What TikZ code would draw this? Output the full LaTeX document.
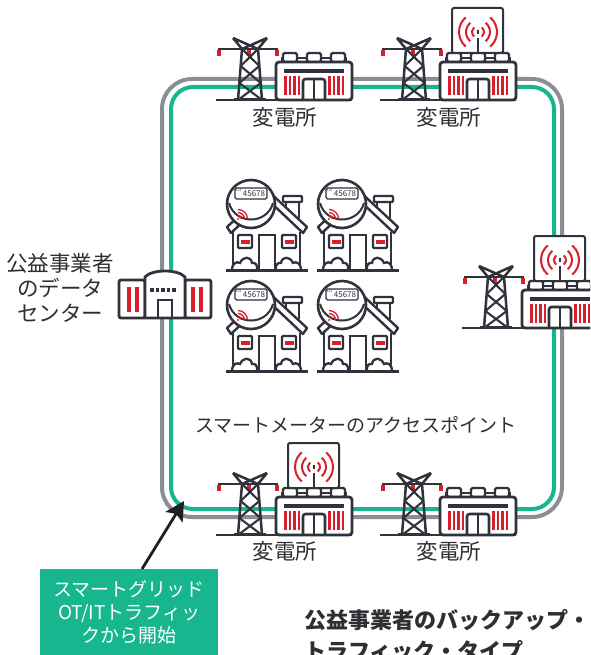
\documentclass[tikz,border=0pt]{standalone}
\usepackage{fontspec}
\setmainfont{Noto Sans CJK JP}
\usetikzlibrary{arrows.meta,calc}

\definecolor{ink}{HTML}{30323C}
\definecolor{ringgray}{HTML}{8A8E95}
\definecolor{ringgreen}{HTML}{17B68F}
\definecolor{alarm}{HTML}{D7202B}
\definecolor{txt}{HTML}{2E2E33}

\tikzset{
  % transmission tower + substation building, origin = building bottom-left
  substation/.pic={
    \draw[ink, line width=2.8] (-60,0) -- (76,0);
    \draw[ink, line width=2.6] (-58,-51) -- (2,-51);
    \foreach \t in {-57,-27,1} \fill[alarm] (\t-1.7,-50) rectangle (\t+1.7,-44);
    \draw[ink, line width=2.5, line join=miter]
      (-43,-62) -- (-34,-51) -- (-38,0)
      (-9,-62) -- (-18,-51) -- (-14,0)
      (-43,-62) -- (-18,-51)
      (-9,-62) -- (-34,-51);
    \draw[ink, line width=2.1]
      (-34,-51) -- (-16.67,-34)  (-18,-51) -- (-35.33,-34)
      (-35.33,-34) -- (-15.33,-17) (-16.67,-34) -- (-36.67,-17)
      (-36.67,-17) -- (-14,0) (-15.33,-17) -- (-38,0);
    \draw[ink, line width=2.6] (-42,-1) -- (-10,-1);
    % building
    \draw[ink, line width=2.4, fill=white] (6,-42) rectangle (70,-38);
    \foreach \a/\b in {7/21, 31/45, 55/69}
      \draw[ink, line width=2.4, fill=white, rounded corners=1.5] (\a,-38) rectangle (\b,-47);
    \draw[ink, line width=2.8, fill=white, rounded corners=3] (0,-38) rectangle (76,0);
    \fill[ink] (8,-31) rectangle (68,-27);
    \foreach \x in {8,12.5,17,21.5,52,56.5,61,65.5}
      \fill[alarm] (\x,-24) rectangle (\x+2.7,-5);
    \draw[ink, line width=2.6, rounded corners=2.5] (27,0) -- (27,-21) -- (49,-21) -- (49,0);
    \draw[ink, line width=2] (38,-21) -- (38,0);
  },
  % radio panel mounted on a substation roof
  radiopanel/.pic={
    \draw[ink, line width=2, fill=white, rounded corners=2] (12,-47) rectangle (63,-92);
    \draw[ink, line width=2] (38,-47) -- (38,-62);
    \fill[ink] (36.8,-70) rectangle (39.2,-66);
    \foreach \r in {6,12,19} {
      \draw[alarm, line width=2] (38,-68) ++(-50:\r) arc[start angle=-50, end angle=50, radius=\r];
      \draw[alarm, line width=2] (38,-68) ++(130:\r) arc[start angle=130, end angle=230, radius=\r];
    }
  },
  % house with smart meter, origin = meter centre
  meterhouse/.pic={
    \draw[ink, line width=2.4, fill=white] (35,14) -- (35,-2) -- (48,-2) -- (48,14);
    \draw[ink, line width=2.4, fill=white, rounded corners=1] (32,-8) rectangle (51,-2);
    \fill[white] (-18,27) -- (16,-4) -- (49,27) -- (49,66) -- (-18,66) -- cycle;
    \draw[ink, line width=2.6] (-18,28) -- (-18,66) (49,28) -- (49,66);
    \draw[ink, line width=2.4, fill=white, line join=round]
      (-24,23) -- (16,-14) -- (56,23) -- (52,29) -- (16,-5) -- (-20,29) -- cycle;
    \foreach \x in {-13,31} {
      \draw[ink, line width=2.2, fill=white, rounded corners=1] (\x,31) rectangle (\x+14,44);
      \fill[alarm] (\x+2.5,35.5) rectangle (\x+11.5,39.5);
    }
    \draw[ink, line width=2.4] (8,66) -- (8,31) -- (24,31) -- (24,66);
    \draw[ink, line width=2.3, fill=white]
      (-19,66) .. controls (-19,59) and (-14,57) .. (-11,59)
      .. controls (-8,52) and (0,52) .. (1,59)
      .. controls (4,58) and (7,61) .. (6,66);
    \draw[ink, line width=2.3, fill=white]
      (25,66) .. controls (24,61) and (27,58) .. (30,59)
      .. controls (31,52) and (39,52) .. (42,59)
      .. controls (45,57) and (50,59) .. (50,66);
    \draw[ink, line width=3] (-25,66) -- (57,66);
    \draw[ink, line width=2.6, fill=white] (0,0) circle[radius=24];
    \draw[ink, line width=1.4, rounded corners=1.5] (-16,-16) rectangle (16,-5);
    \node[text=ink, inner sep=0, font=\fontsize{8}{8}\selectfont] (-reading) at (3,-10) {45678};
    \node[text=ink, inner sep=0, font=\fontsize{3.5}{3.5}\selectfont] (-unit) at (-12.5,-13.5) {123};
    \draw[ink, line width=2] (-22,-1) .. controls (-16,21) and (16,21) .. (22,-1);
    \fill[alarm] (-13,15) circle[radius=1.2];
    \foreach \r in {3.5,6.5,9.5}
      \draw[alarm, line width=1.3] (-13,15) ++(-90:\r) arc[start angle=-90, end angle=0, radius=\r];
  },
  sslabel/.style={text=txt, inner sep=0, font=\fontsize{21.5}{24}\selectfont},
  titletext/.style={text=txt, inner sep=0, anchor=west, font=\bfseries\fontsize{22}{26}\selectfont},
}

\begin{document}
\begin{tikzpicture}[x=1pt, y=-1pt, line cap=butt]
\useasboundingbox (0,0) rectangle (590,655);
\clip (0,0) rectangle (590,655);
\fill[white] (0,0) rectangle (590,655);

% network ring
\draw[ringgray, line width=4, rounded corners=30pt] (162,79) rectangle (562,517);
\draw[ringgreen, line width=4, rounded corners=22pt] (171,87) rectangle (554,509);

% substations
\pic (s1) at (276,100) {substation};
\pic (s2) at (440,100) {substation};
\pic (r2) at (440,100) {radiopanel};
\pic (s3) at (522,328) {substation};
\pic (r3) at (522,328) {radiopanel};
\pic (s4) at (276,535) {substation};
\pic (r4) at (276,535) {radiopanel};
\pic (s5) at (440,535) {substation};

\node[sslabel] (l1) at (285,117) {変電所};
\node[sslabel] (l2) at (449,117) {変電所};
\node[sslabel] (l4) at (285,551) {変電所};
\node[sslabel] (l5) at (449,551) {変電所};

% homes with smart meters
\pic (h1) at (251,204) {meterhouse};
\pic (h2) at (342,204) {meterhouse};
\pic (h3) at (251,305) {meterhouse};
\pic (h4) at (342,305) {meterhouse};

\node[text=txt, inner sep=0, font=\fontsize{19}{22}\selectfont] (ap) at (356,425)
  {スマートメーターのアクセスポイント};

% utility data centre
\draw[ink, line width=2.8, fill=white, rounded corners=2] (119,280) rectangle (145,318);
\draw[ink, line width=2.8, fill=white, rounded corners=2] (185,280) rectangle (211,318);
\draw[ink, line width=2.8, fill=white] (145,318) -- (145,277)
  .. controls (152,269) and (178,269) .. (185,277) -- (185,318) -- cycle;
\foreach \x in {127,135,191,199} \fill[alarm] (\x,287) rectangle (\x+3.5,312);
\foreach \x in {150,155.5,161,166.5,172} \fill[ink] (\x,287.5) rectangle (\x+3.6,291.5);
\draw[ink, line width=2.8] (158,318) -- (158,300) -- (172,300) -- (172,318);

\node[text=txt, inner sep=0, align=center, font=\fontsize{21.5}{25}\selectfont] (dc) at (60,288)
  {公益事業者\\のデータ\\センター};

% starting point of the OT/IT traffic
\node[fill=ringgreen, text=white, anchor=north west, inner sep=0, minimum width=178,
      minimum height=86, align=center, font=\fontsize{19}{23}\selectfont] (start) at (40,569)
  {スマートグリッド\\OT/ITトラフィッ\\クから開始};
\fill[ringgreen] (start.south west) rectangle ($(start.south east)+(0,8)$);
\coordinate (entry) at (184,501);
\draw[black!88, line width=2.8, -{Stealth[length=19pt, width=20pt, inset=4pt]}]
  ($(start.north west)+(102,0)$) -- (entry);

\node[titletext] (title) at (304,620) {公益事業者のバックアップ・};
\node[titletext] (title2) at (304,651) {トラフィック・タイプ};
\end{tikzpicture}
\end{document}
